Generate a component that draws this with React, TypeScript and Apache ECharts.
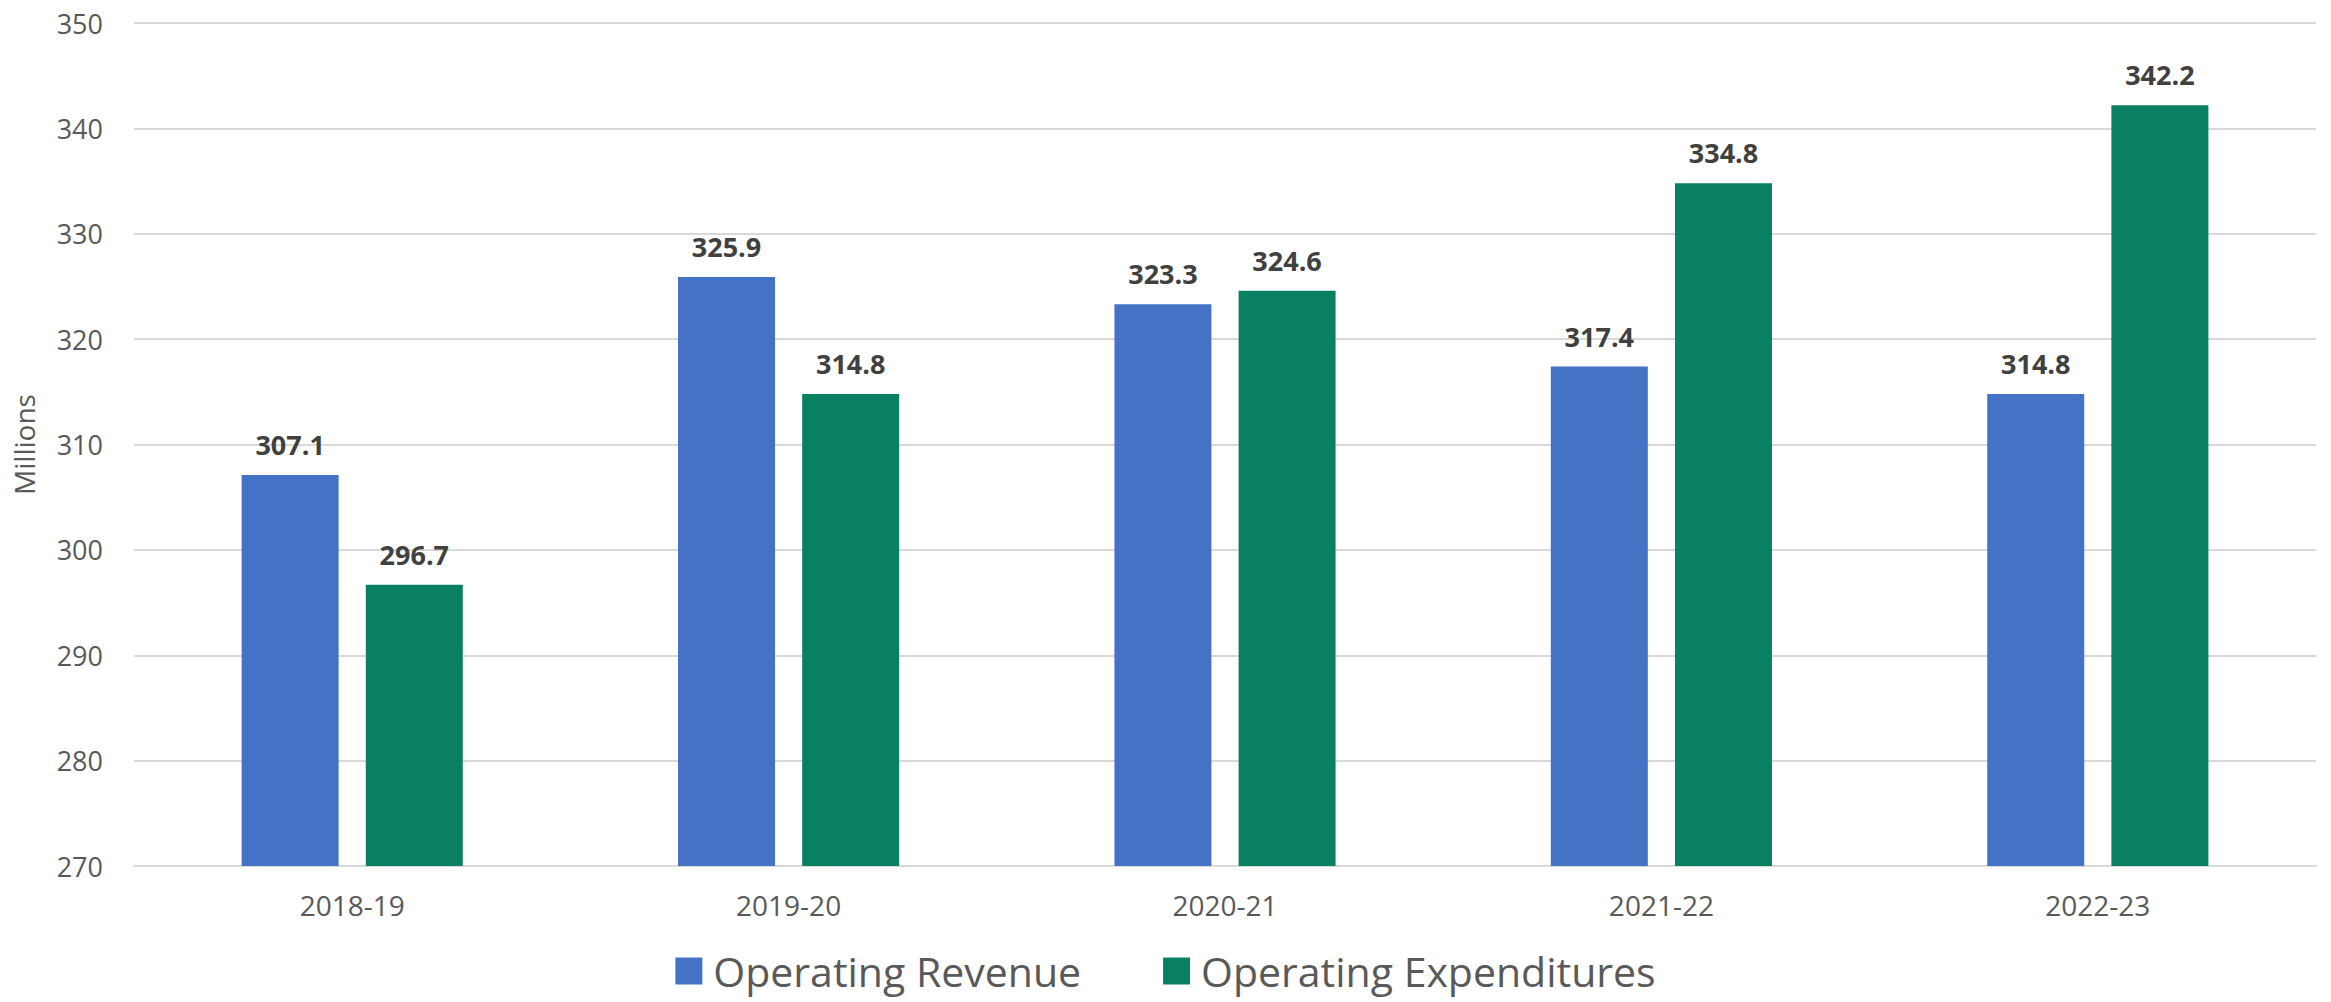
import React, { useEffect, useRef } from "react";
import * as echarts from "echarts";

const categories = ["2018-19", "2019-20", "2020-21", "2021-22", "2022-23"];
const revenue = [307.1, 325.9, 323.3, 317.4, 314.8];
const expenditures = [296.7, 314.8, 324.6, 334.8, 342.2];
const seriesNames = ["Operating Revenue", "Operating Expenditures"];

const FONT = "'Open Sans', 'Noto Sans', sans-serif";

export default function App() {
  const ref = useRef<HTMLDivElement>(null);
  useEffect(() => {
    if (!ref.current) return;
    const chart = echarts.init(ref.current, undefined, { renderer: "svg" });
    const label = {
      show: true,
      position: "top",
      distance: 17,
      fontFamily: FONT,
      fontSize: 27,
      fontWeight: "bold",
      color: "#404040",
      formatter: (p: any) => p.value.toFixed(1),
    };
    chart.setOption({
      animation: false,
      textStyle: { fontFamily: FONT },
      grid: { left: 134, right: 15, top: 23, bottom: 136, containLabel: false },
      legend: {
        data: seriesNames,
        left: "center",
        top: 950,
        padding: 0,
        itemWidth: 27,
        itemHeight: 27,
        itemGap: 82,
        icon: "rect",
        textStyle: {
          fontFamily: FONT,
          fontSize: 41,
          lineHeight: 42,
          color: "#595959",
          padding: [0, 0, 0, 6],
        },
      },
      xAxis: {
        type: "category",
        data: categories,
        axisLine: { lineStyle: { color: "#D9D9D9", width: 2 } },
        axisTick: { show: false },
        axisLabel: { fontFamily: FONT, fontSize: 28, color: "#595959", margin: 25 },
      },
      yAxis: {
        type: "value",
        min: 270,
        max: 350,
        interval: 10,
        name: "Millions",
        nameLocation: "middle",
        nameRotate: 90,
        nameGap: 96,
        nameTextStyle: { fontFamily: FONT, fontSize: 28, color: "#595959" },
        axisLine: { show: false },
        axisTick: { show: false },
        splitLine: { lineStyle: { color: "#D9D9D9", width: 2 } },
        axisLabel: { fontFamily: FONT, fontSize: 27, color: "#595959", margin: 31 },
      },
      series: [
        {
          name: seriesNames[0],
          type: "bar",
          data: revenue,
          barWidth: 97,
          barGap: "28%",
          itemStyle: { color: "#4472C4" },
          label,
        },
        {
          name: seriesNames[1],
          type: "bar",
          data: expenditures,
          barWidth: 97,
          barGap: "28%",
          itemStyle: { color: "#0A8062" },
          label,
        },
      ],
    });
    return () => chart.dispose();
  }, []);
  return (
    <div
      ref={ref}
      style={{ position: "fixed", left: 0, top: 0, width: 2331, height: 1002, background: "#fff" }}
    />
  );
}
